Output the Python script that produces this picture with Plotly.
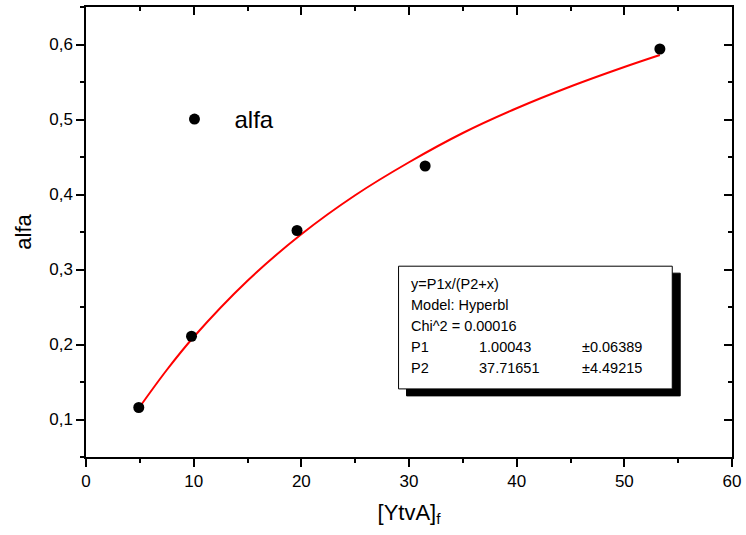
import plotly.graph_objects as go

# measured data
x_data = [4.9, 9.8, 19.6, 31.5, 53.3]
y_data = [0.116, 0.211, 0.352, 0.438, 0.594]

# fitted curve
x_fit = [4.9, 7.5, 10, 15, 20, 25, 30, 35, 40, 45, 50, 53.3]
y_fit = [0.115, 0.166, 0.210, 0.285, 0.347, 0.399, 0.443, 0.482, 0.515, 0.544, 0.570, 0.586]

x_ticks = [0, 10, 20, 30, 40, 50, 60]
y_ticks = [0.1, 0.2, 0.3, 0.4, 0.5, 0.6]
y_labels = ["0,1", "0,2", "0,3", "0,4", "0,5", "0,6"]
y_minor = [0.05, 0.15, 0.25, 0.35, 0.45, 0.55, 0.65]

fit_lines = ["y=P1x/(P2+x)", "Model: Hyperbl", "Chi^2 = 0.00016"]
param_names = ["P1", "P2"]
param_vals = ["1.00043", "37.71651"]
param_errs = ["±0.06389", "±4.49215"]

FONT = "Liberation Sans, Arial, sans-serif"

fig = go.Figure()
fig.add_trace(go.Scatter(x=x_fit, y=y_fit, mode="lines", line=dict(color="red", width=2, shape="spline"),
                         showlegend=False, hoverinfo="skip"))
fig.add_trace(go.Scatter(x=x_data, y=y_data, mode="markers", name="alfa",
                         marker=dict(color="black", size=11)))
# invisible trace to host the mirrored (inside-tick) axes
fig.add_trace(go.Scatter(x=x_data, y=y_data, mode="markers", xaxis="x2", yaxis="y2",
                         marker=dict(opacity=0), showlegend=False, hoverinfo="skip"))

# fit info box (shadow + box)
bx0, bx1, by0, by1 = 29.03, 54.45, 0.1408, 0.3044
dx, dy = 0.74, 0.0093
fig.add_shape(type="rect", x0=bx0 + dx, x1=bx1 + dx, y0=by0 - dy, y1=by1 - dy,
              fillcolor="black", line=dict(color="black", width=1), layer="above")
fig.add_shape(type="rect", x0=bx0, x1=bx1, y0=by0, y1=by1,
              fillcolor="white", line=dict(color="black", width=1), layer="above")

BOXFONT = dict(family=FONT, size=14.5, color="black")
lines_y = [0.2805, 0.2526, 0.2247, 0.1967, 0.1688]
for i, t in enumerate(fit_lines):
    fig.add_annotation(x=30.0, y=lines_y[i], text=t, showarrow=False, xanchor="left", yanchor="middle",
                       font=BOXFONT)
for j in range(2):
    yy = lines_y[3 + j]
    fig.add_annotation(x=30.0, y=yy, text=param_names[j], showarrow=False, xanchor="left", yanchor="middle",
                       font=BOXFONT)
    fig.add_annotation(x=36.3, y=yy, text=param_vals[j], showarrow=False, xanchor="left", yanchor="middle",
                       font=BOXFONT)
    fig.add_annotation(x=45.9, y=yy, text=param_errs[j], showarrow=False, xanchor="left", yanchor="middle",
                       font=BOXFONT)

TICKFONT = dict(family=FONT, size=17, color="black")
base = dict(showgrid=False, zeroline=False, tickcolor="black", ticklen=8, tickwidth=1.5)

fig.update_layout(
    xaxis=dict(range=[0, 60], tickvals=x_ticks, ticktext=[str(v) for v in x_ticks],
               showline=True, linecolor="black", linewidth=1.5, mirror=True, ticks="outside",
               tickfont=TICKFONT, ticklabeloverflow="allow",
               minor=dict(ticks="outside", ticklen=4, tickwidth=1.5, tickcolor="black", dtick=5),
               title=dict(text="[YtvA]<sub>f</sub>", font=dict(family=FONT, size=22, color="black"), standoff=14),
               **base),
    yaxis=dict(range=[0.05, 0.65], tickvals=y_ticks, ticktext=y_labels,
               showline=True, linecolor="black", linewidth=1.5, mirror=True, ticks="outside",
               tickfont=TICKFONT,
               minor=dict(ticks="outside", ticklen=4, tickwidth=1.5, tickcolor="black", tickvals=y_minor),
               title=dict(text="alfa", font=dict(family=FONT, size=22, color="black"), standoff=12),
               **base),
    xaxis2=dict(range=[0, 60], overlaying="x", side="top", anchor="y", tickvals=x_ticks,
                showticklabels=False, showline=False, ticks="inside",
                minor=dict(ticks="inside", ticklen=4, tickwidth=1.5, tickcolor="black", dtick=5),
                **base),
    yaxis2=dict(range=[0.05, 0.65], overlaying="y", side="right", anchor="x", tickvals=y_ticks,
                showticklabels=False, showline=False, ticks="inside",
                minor=dict(ticks="inside", ticklen=4, tickwidth=1.5, tickcolor="black", tickvals=y_minor),
                **base),
    width=746, height=535, margin=dict(l=86, r=11, t=5, b=78),
    plot_bgcolor="white", paper_bgcolor="white",
    legend=dict(x=0.106, y=0.75, xanchor="left", yanchor="middle", bgcolor="rgba(0,0,0,0)",
                itemwidth=70, font=dict(family=FONT, size=24, color="black")),
)

fig.write_html("out.html")
